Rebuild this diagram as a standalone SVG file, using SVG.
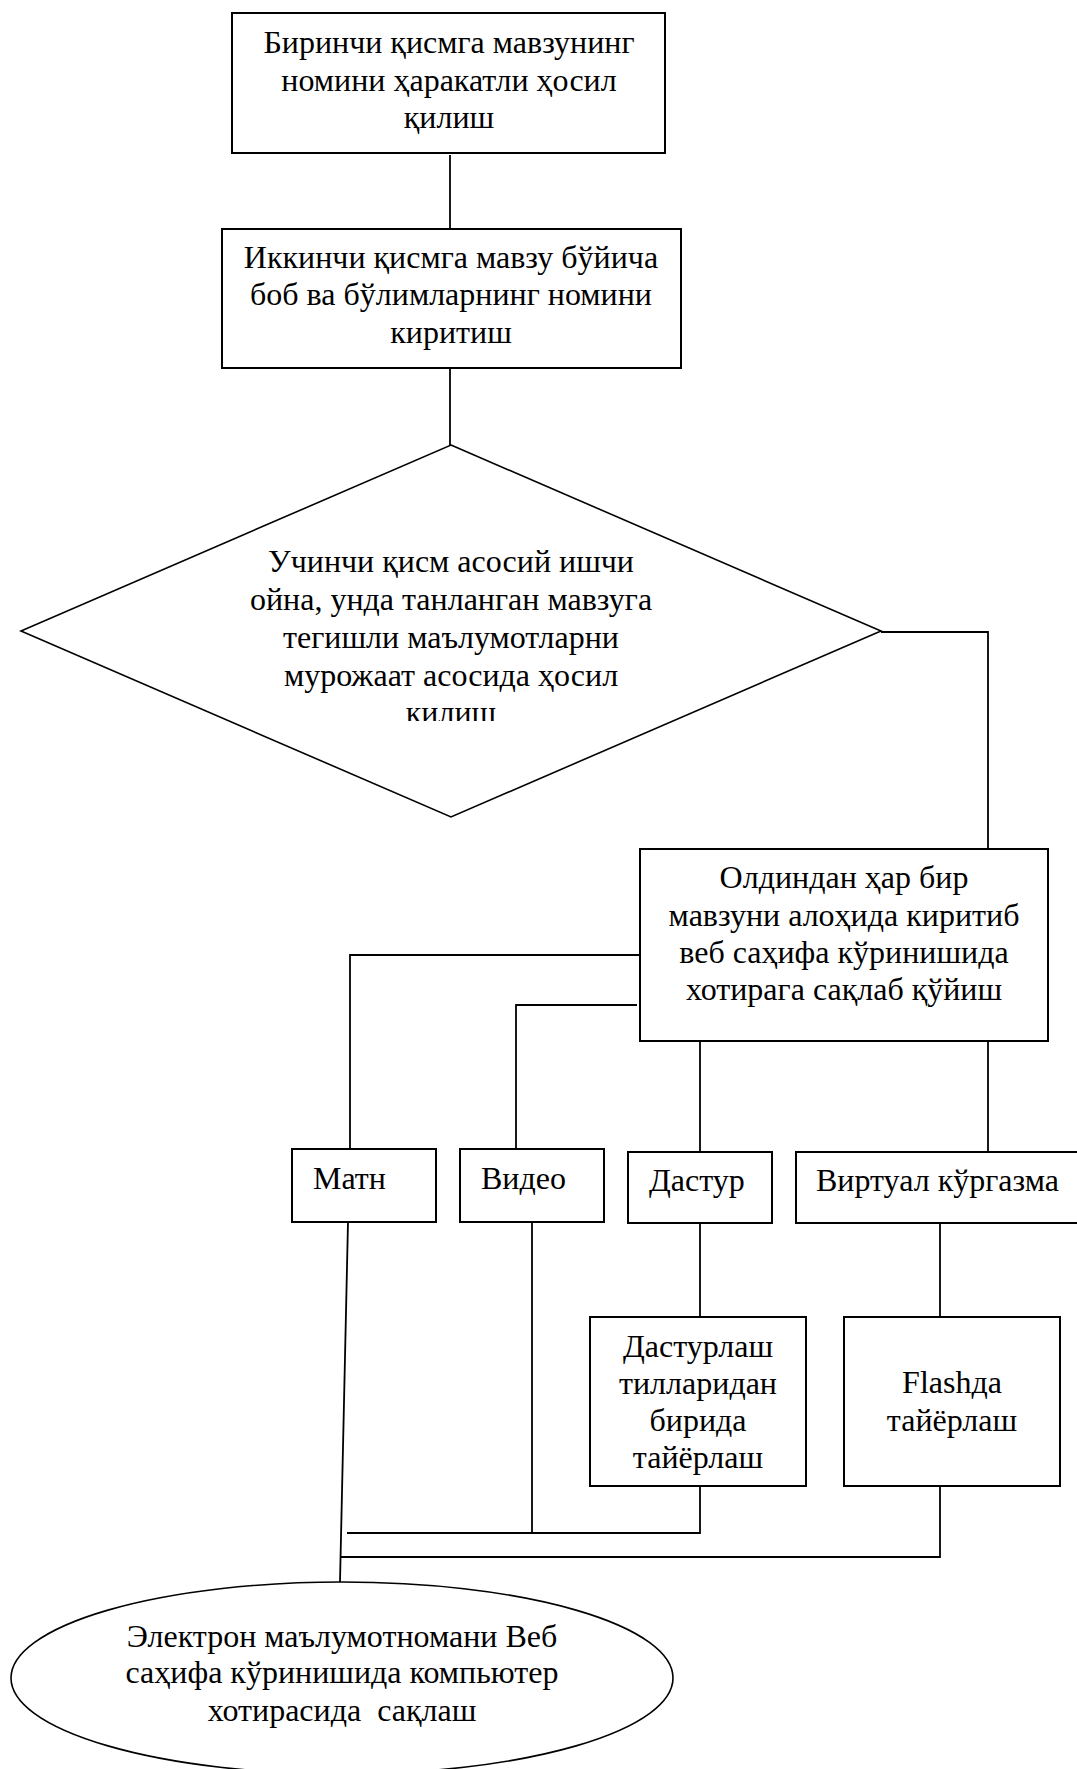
<svg xmlns="http://www.w3.org/2000/svg" width="1077" height="1769" viewBox="0 0 1077 1769">
<defs>
<style>
.box{fill:#fff;stroke:#000;stroke-width:2}
.shape{fill:#fff;stroke:#000;stroke-width:1.6}
.ln{fill:none;stroke:#000;stroke-width:1.8}
text{font-family:"Liberation Serif","Times New Roman",serif;font-size:32px;fill:#000}
.c{text-anchor:middle}
</style>
<clipPath id="dclip"><rect x="0" y="400" width="1077" height="321"/></clipPath>
</defs>
<rect width="1077" height="1769" fill="#fff"/>
<g id="connectors">
<polyline class="ln" points="450,155 450,229"/>
<polyline class="ln" points="450,368 450,445"/>
<polyline class="ln" points="881,632 988,632 988,849"/>
<polyline class="ln" points="640,955 350,955 350,1149"/>
<polyline class="ln" points="637,1005 516,1005 516,1149"/>
<polyline class="ln" points="700,1041 700,1152"/>
<polyline class="ln" points="988,1038 988,1152"/>
<polyline class="ln" points="700,1223 700,1317"/>
<polyline class="ln" points="940,1223 940,1317"/>
<polyline class="ln" points="348,1222 340,1582"/>
<polyline class="ln" points="532,1222 532,1533"/>
<polyline class="ln" points="347,1533 700,1533 700,1486"/>
<polyline class="ln" points="340,1557 940,1557 940,1486"/>
</g>
<g id="node1">
<rect class="box" x="232" y="13" width="433" height="140"/>
<text class="c" x="449" y="53">Биринчи қисмга мавзунинг</text>
<text class="c" x="449" y="91">номини ҳаракатли ҳосил</text>
<text class="c" x="449" y="128">қилиш</text>
</g>
<g id="node2">
<rect class="box" x="222" y="229" width="459" height="139"/>
<text class="c" x="451" y="268">Иккинчи қисмга мавзу бўйича</text>
<text class="c" x="451" y="305">боб ва бўлимларнинг номини</text>
<text class="c" x="451" y="343">киритиш</text>
</g>
<g id="node3">
<polygon class="shape" points="451,445 881,631 451,817 21,631"/>
<text class="c" x="451" y="572">Учинчи қисм асосий ишчи</text>
<text class="c" x="451" y="610">ойна, унда танланган мавзуга</text>
<text class="c" x="451" y="648">тегишли маълумотларни</text>
<text class="c" x="451" y="686">мурожаат асосида ҳосил</text>
<text class="c" x="451" y="723" clip-path="url(#dclip)">қилиш</text>
</g>
<g id="node4">
<rect class="box" x="640" y="849" width="408" height="192"/>
<text class="c" x="844" y="888">Олдиндан ҳар бир</text>
<text class="c" x="844" y="926">мавзуни алоҳида киритиб</text>
<text class="c" x="844" y="963">веб саҳифа кўринишида</text>
<text class="c" x="844" y="1000">хотирага сақлаб қўйиш</text>
</g>
<g id="node5">
<rect class="box" x="292" y="1149" width="144" height="73"/>
<text x="313" y="1189">Матн</text>
</g>
<g id="node6">
<rect class="box" x="460" y="1149" width="144" height="73"/>
<text x="481" y="1189">Видео</text>
</g>
<g id="node7">
<rect class="box" x="628" y="1152" width="144" height="71"/>
<text x="649" y="1191">Дастур</text>
</g>
<g id="node8">
<rect class="box" x="796" y="1152" width="290" height="71"/>
<text x="816" y="1191">Виртуал кўргазма</text>
</g>
<g id="node9">
<rect class="box" x="590" y="1317" width="216" height="169"/>
<text class="c" x="698" y="1357">Дастурлаш</text>
<text class="c" x="698" y="1394">тилларидан</text>
<text class="c" x="698" y="1431">бирида</text>
<text class="c" x="698" y="1468">тайёрлаш</text>
</g>
<g id="node10">
<rect class="box" x="844" y="1317" width="216" height="169"/>
<text class="c" x="952" y="1393">Flashда</text>
<text class="c" x="952" y="1431">тайёрлаш</text>
</g>
<g id="node11">
<ellipse class="shape" cx="342" cy="1678" rx="331" ry="96"/>
<text class="c" x="342" y="1647">Электрон маълумотномани Веб</text>
<text class="c" x="342" y="1683">саҳифа кўринишида компьютер</text>
<text class="c" x="342" y="1721" xml:space="preserve">хотирасида  сақлаш</text>
</g>
</svg>
